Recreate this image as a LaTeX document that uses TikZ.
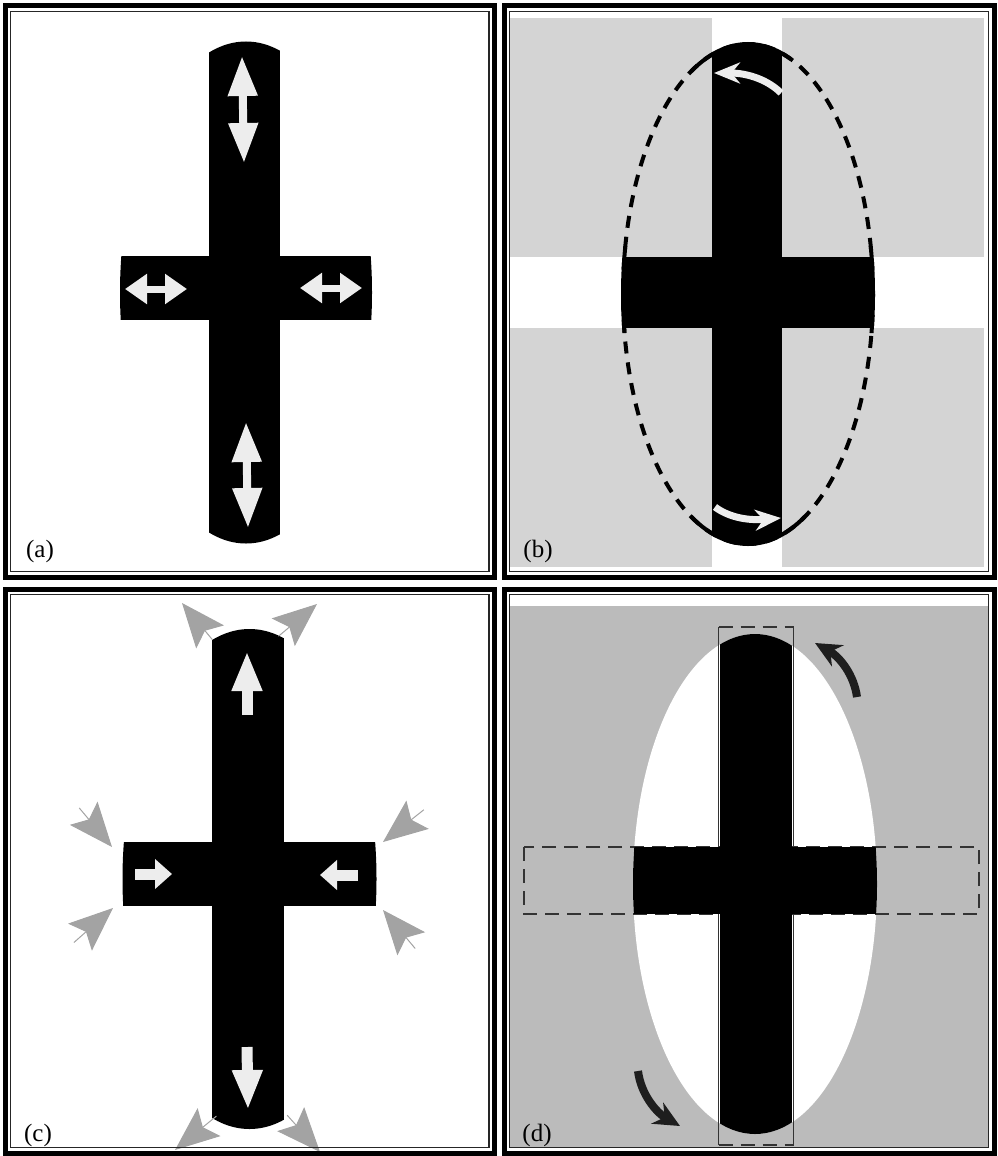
\documentclass[tikz,border=0pt]{standalone}
\usepackage{fontspec}
\setmainfont{Liberation Serif}
\usetikzlibrary{arrows.meta}
\definecolor{lgray}{HTML}{D4D4D4}
\definecolor{mgray}{HTML}{BBBBBB}
\definecolor{dartgray}{HTML}{A3A3A3}
\definecolor{arrw}{HTML}{EDEDED}
\definecolor{darr}{HTML}{1E1E1E}
\definecolor{rectline}{HTML}{333333}
\begin{document}
\begin{tikzpicture}[x=1pt,y=-1pt,
  frameouter/.style={line width=5pt,draw=black},
  frameinner/.style={line width=1.4pt,draw=black!85},
  lab/.style={font=\fontsize{25}{28}\selectfont,anchor=center,inner sep=0pt},
  dblv/.style={draw=arrw,line width=8pt,{Triangle[length=40pt,width=28pt]}-{Triangle[length=40pt,width=28pt]}},
  dblh/.style={draw=arrw,line width=7pt,{Triangle[length=22pt,width=29pt]}-{Triangle[length=22pt,width=29pt]}},
  singv/.style={draw=arrw,line width=11pt,-{Triangle[length=40pt,width=28pt]}},
  singh/.style={draw=arrw,line width=11pt,-{Triangle[length=17pt,width=29pt]}},
  dart/.style={draw=dartgray,line width=1pt,-{Stealth[length=44pt,width=36pt,inset=8pt]}},
  warr/.style={draw=arrw,line width=7pt,-{Stealth[length=26pt,width=21pt]}},
  blackarr/.style={draw=darr,line width=8pt,-{Stealth[length=26pt,width=24pt]}},
  ell/.style={line width=4pt,draw=black},
  dashrect/.style={draw=rectline,line width=1.5pt,dash pattern=on 14pt off 8pt},
  siderect/.style={draw=rectline,line width=1.5pt}
]
\useasboundingbox (0,0) rectangle (998,1156);

% ================= panel (a) =================
\begin{scope}
  \clip (246,292.5) ellipse [x radius=126, y radius=251];
  \fill[black] (209,0) rectangle (280,600);
  \fill[black] (100,256) rectangle (400,320);
\end{scope}
\draw[dblv] (242,56) -- (244,163);
\draw[dblv] (246,422) -- (248,528);
\draw[dblh] (125,289) -- (187,289);
\draw[dblh] (300,288) -- (362,288);
\node[lab] (la) at (40,551) {(a)};

% ================= panel (b) =================
\fill[lgray] (510,18) rectangle (712,257);
\fill[lgray] (782,18) rectangle (984,257);
\fill[lgray] (510,328) rectangle (712,567);
\fill[lgray] (782,328) rectangle (984,567);
\begin{scope}
  \clip (748,294) ellipse [x radius=125, y radius=250];
  \fill[black] (712,0) rectangle (782,600);
  \fill[black] (600,257) rectangle (900,328);
\end{scope}
\draw[ell,dash pattern=on 12pt off 9pt] (748,294) ellipse [x radius=125, y radius=250];
\draw[ell] (748,294) ++(243:125 and 250) arc[start angle=243, end angle=290, x radius=125, y radius=250];
\draw[ell] (748,294) ++(63:125 and 250) arc[start angle=63, end angle=117, x radius=125, y radius=250];
\draw[ell] (748,294) ++(171:125 and 250) arc[start angle=171, end angle=191, x radius=125, y radius=250];
\draw[ell] (748,294) ++(-11:125 and 250) arc[start angle=-11, end angle=9, x radius=125, y radius=250];
\draw[warr] (781,93) .. controls (768,80) and (748,73) .. (714,73);
\draw[warr] (715,507) .. controls (727,516) and (745,521) .. (781,518);
\node[lab] (lb) at (538,551) {(b)};

% ================= panel (c) =================
\begin{scope}
  \clip (249.5,879) ellipse [x radius=127, y radius=250];
  \fill[black] (212,500) rectangle (284,1200);
  \fill[black] (100,842) rectangle (400,906);
\end{scope}
\draw[singv] (247,715) -- (247,651);
\draw[singv] (247,1047) -- (248,1110);
\draw[singh] (135,874) -- (172,874);
\draw[singh] (358,875) -- (320,875);
\draw[dart] (212.5,639.8) -- (182,603);
\draw[dart] (278.5,636.2) -- (317,604);
\draw[dart] (79.2,807.9) -- (112,847);
\draw[dart] (73.9,942.5) -- (113,908);
\draw[dart] (423.8,809.8) -- (383,842);
\draw[dart] (415.2,948.5) -- (383,910);
\draw[dart] (216.4,1116.1) -- (175,1150);
\draw[dart] (287.2,1115.2) -- (320,1152);
\node[lab] (lc) at (38,1135) {(c)};

% ================= panel (d) =================
\fill[mgray] (509.5,606) rectangle (988.5,1147.5);
\fill[white] (755,884) ellipse [x radius=122, y radius=250];
\draw[dashrect] (524,847) rectangle (979,914);
\draw[dashrect] (718.5,627) -- (793.5,627);
\draw[dashrect] (718.5,1145) -- (793.5,1145);
\draw[siderect] (718.5,627) -- (718.5,1145);
\draw[siderect] (793.5,627) -- (793.5,1145);
\begin{scope}
  \clip (755,884) ellipse [x radius=122, y radius=250];
  \fill[black] (720,600) rectangle (792,1200);
  \fill[black] (600,847) rectangle (900,914);
\end{scope}
\draw[blackarr] (857,697) .. controls (854,675) and (840,657) .. (815,643);
\draw[blackarr] (638,1071) .. controls (641,1095) and (657,1113) .. (680,1126);
\node[lab] (ld) at (537,1135) {(d)};

% ================= frames =================
\draw[frameouter] (5,6) rectangle (494.5,577);
\draw[frameinner] (10.5,11.5) rectangle (489,571.5);
\draw[frameouter] (504,6) rectangle (994,577);
\draw[frameinner] (509.5,11.5) rectangle (988.5,571.5);
\draw[frameouter] (5,589) rectangle (494.5,1153);
\draw[frameinner] (10.5,594.5) rectangle (489,1147.5);
\draw[frameouter] (504,589) rectangle (994,1153);
\draw[frameinner] (509.5,594.5) rectangle (988.5,1147.5);
\end{tikzpicture}
\end{document}
